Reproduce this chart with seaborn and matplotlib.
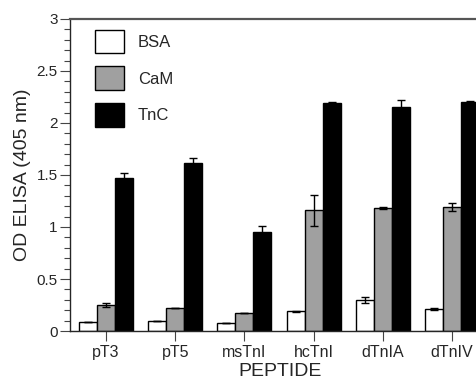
import numpy as np
import pandas as pd
import matplotlib
matplotlib.use("Agg")
import matplotlib.pyplot as plt
from matplotlib.ticker import MultipleLocator, FormatStrFormatter
import seaborn as sns

# Data
peptides = ['pT3', 'pT5', 'msTnI', 'hcTnI', 'dTnIA', 'dTnIV']
proteins = ['BSA', 'CaM', 'TnC']

bsa = [0.09, 0.10, 0.08, 0.19, 0.30, 0.21]
bsa_err = [0.0, 0.0, 0.0, 0.005, 0.03, 0.012]
cam = [0.25, 0.22, 0.17, 1.16, 1.185, 1.195]
cam_err = [0.015, 0.0, 0.0, 0.15, 0.01, 0.04]
tnc = [1.47, 1.62, 0.955, 2.195, 2.155, 2.205]
tnc_err = [0.05, 0.04, 0.05, 0.005, 0.07, 0.008]

colors = {'BSA': 'white', 'CaM': '#a0a0a0', 'TnC': 'black'}

df = pd.DataFrame({
    'peptide': peptides * 3,
    'protein': np.repeat(proteins, len(peptides)),
    'od': bsa + cam + tnc,
})
errs = {'BSA': bsa_err, 'CaM': cam_err, 'TnC': tnc_err}

sns.set_style('ticks')
plt.rcParams['font.family'] = ['Liberation Sans', 'DejaVu Sans']

fig = plt.figure(figsize=(4.77, 3.82), dpi=100)
ax = fig.add_axes([0.1468, 0.1335, 0.8805, 0.8168])

sns.barplot(data=df, x='peptide', y='od', hue='protein', order=peptides,
            hue_order=proteins, palette=colors, width=0.78, gap=0,
            errorbar=None, edgecolor='black', linewidth=1.0, ax=ax)

# error bars on top of each bar, using the bar positions seaborn made
for cont, prot in zip(ax.containers, proteins):
    xs = [b.get_x() + b.get_width() / 2 for b in cont]
    hs = [b.get_height() for b in cont]
    ax.errorbar(xs, hs, yerr=errs[prot], fmt='none', ecolor='black',
                elinewidth=1.0, capsize=3, capthick=1.0, zorder=5)

ax.set_xlim(-0.52, 5.55)
ax.set_ylim(0, 3)
ax.yaxis.set_major_locator(MultipleLocator(0.5))
ax.yaxis.set_minor_locator(MultipleLocator(0.1))
ax.yaxis.set_major_formatter(FormatStrFormatter('%g'))

ax.set_xlabel('PEPTIDE', fontsize=14, labelpad=2.5)
ax.set_ylabel('OD ELISA (405 nm)', fontsize=14, labelpad=4)

ax.tick_params(axis='both', which='major', direction='out', length=7,
               width=0.8, color='#444444')
ax.tick_params(axis='y', which='minor', direction='out', length=4,
               width=0.8, color='#444444')
ax.tick_params(axis='y', labelsize=11, pad=2)
ax.tick_params(axis='x', labelsize=11.5, pad=3)

for s in ['left', 'bottom']:
    ax.spines[s].set_linewidth(1.0)
ax.spines['top'].set_visible(True)
ax.spines['top'].set_linewidth(1.6)
ax.spines['top'].set_color('#555555')
ax.spines['right'].set_visible(False)

ax.legend(loc='upper left', bbox_to_anchor=(0.0595, 0.965), frameon=False,
          fontsize=12, handlelength=1.74, handleheight=1.8,
          labelspacing=0.78, handletextpad=0.84, borderpad=0,
          borderaxespad=0)

fig.savefig('out.png', dpi=100)
